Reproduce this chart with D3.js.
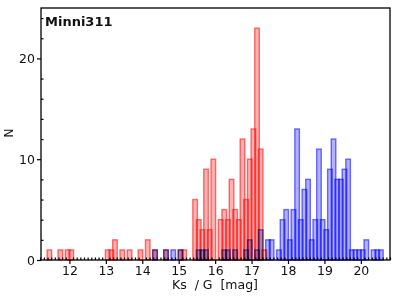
<!DOCTYPE html>
<html><head><meta charset="utf-8">
<script src="https://cdn.jsdelivr.net/npm/d3@7"></script>
<style>
html,body{margin:0;padding:0;background:#fff;}
svg{display:block;}
text{font-family:"DejaVu Sans",sans-serif;fill:#111;}
</style></head>
<body>
<svg id="c" width="400" height="300"></svg>
<script>
// Histogram bins (lower edge, mag) and counts
const binWidth = 0.1;
const ksBins   = [11.4, 11.7, 11.9, 12.0, 13.0, 13.1, 13.2, 13.4, 13.6, 13.9, 14.1, 14.3, 14.6, 15.0, 15.1,
                  15.4, 15.5, 15.6, 15.7, 15.8, 15.9, 16.1, 16.2, 16.3, 16.4, 16.5, 16.6, 16.7, 16.8, 16.9,
                  17.0, 17.1, 17.2, 17.3];
const ksCounts = [1, 1, 1, 1, 1, 1, 2, 1, 1, 1, 2, 1, 1, 1, 1,
                  6, 4, 3, 9, 3, 10, 4, 5, 4, 8, 5, 4, 12, 6, 10,
                  13, 23, 11, 1];
const gBins    = [14.3, 14.6, 14.8, 15.0, 15.5, 15.6, 15.7, 16.2, 16.3, 16.5, 16.8, 16.9, 17.1, 17.2, 17.4,
                  17.5, 17.7, 17.8, 17.9, 18.0, 18.1, 18.2, 18.3, 18.4, 18.5, 18.6, 18.7, 18.8, 18.9, 19.0,
                  19.1, 19.2, 19.3, 19.4, 19.5, 19.6, 19.7, 19.8, 19.9, 20.0, 20.1, 20.3, 20.4, 20.5];
const gCounts  = [1, 1, 1, 1, 1, 1, 1, 1, 1, 1, 1, 2, 1, 3, 2,
                  2, 1, 4, 5, 2, 5, 13, 4, 7, 8, 2, 4, 11, 4, 3,
                  9, 12, 8, 8, 9, 10, 1, 1, 1, 1, 2, 1, 1, 1];
const xTicks = [12, 13, 14, 15, 16, 17, 18, 19, 20];
const yTicks = [0, 10, 20];
const title = "Minni311";
const xLabel = "Ks  / G  [mag]";
const yLabel = "N";

const svg = d3.select("#c");
const L = 41, R = 390, T = 8, B = 260;
const x = d3.scaleLinear().domain([11.22, 20.8]).range([L, R]);
const y = d3.scaleLinear().domain([0, 25]).range([B, T]);
const barW = 0.125; // drawn bar width in mag (bars slightly overlap)

function drawSeries(bins, counts, fill, stroke) {
  const data = bins.map((b, i) => ({c: b + binWidth / 2, n: counts[i]}));
  svg.append("g").selectAll("rect").data(data).join("rect")
    .attr("x", d => x(d.c - barW / 2))
    .attr("width", d => x(d.c + barW / 2) - x(d.c - barW / 2))
    .attr("y", d => y(d.n))
    .attr("height", d => y(0) - y(d.n))
    .attr("fill", fill)
    .attr("stroke", stroke)
    .attr("stroke-width", 1.4)
    .style("mix-blend-mode", "multiply");
}
drawSeries(ksBins, ksCounts, "rgba(255,0,0,0.3)", "rgba(255,0,0,0.55)");
drawSeries(gBins, gCounts, "rgba(0,0,255,0.3)", "rgba(0,0,255,0.55)");

// frame
svg.append("rect").attr("x", L).attr("y", T).attr("width", R - L).attr("height", B - T)
  .attr("fill", "none").attr("stroke", "#000").attr("stroke-width", 1.3);

// x axis
const xMinor = d3.range(112, 209).map(v => v / 10).filter(v => Math.abs(v - Math.round(v)) > 1e-6);
const gxMaj = svg.append("g").attr("transform", `translate(0,${B})`)
  .call(d3.axisBottom(x).tickValues(xTicks).tickSize(4).tickPadding(2).tickFormat(d3.format("d")));
const gxMin = svg.append("g").attr("transform", `translate(0,${B})`)
  .call(d3.axisTop(x).tickValues(xMinor).tickSize(2.5).tickFormat(""));
// y axis
const yMinor = d3.range(2, 25, 2).filter(v => v % 10 !== 0);
const gyMaj = svg.append("g").attr("transform", `translate(${L},0)`)
  .call(d3.axisLeft(y).tickValues(yTicks).tickSize(4).tickPadding(2).tickFormat(d3.format("d")));
const gyMin = svg.append("g").attr("transform", `translate(${L},0)`)
  .call(d3.axisRight(y).tickValues(yMinor).tickSize(2.5).tickFormat(""));
[gxMaj, gxMin, gyMaj, gyMin].forEach(g => {
  g.select(".domain").remove();
  g.selectAll("line").attr("stroke", "#000").attr("stroke-width", 1.2);
  g.selectAll("text").style("font-family", '"DejaVu Sans",sans-serif').style("font-size", "12.5px").attr("fill", "#111");
});

svg.append("text").attr("x", 45).attr("y", 26).text(title)
  .style("font-weight", "bold").style("font-size", "13px");
svg.append("text").attr("x", 215).attr("y", 289).attr("text-anchor", "middle")
  .style("font-size", "12.5px").style("white-space", "pre").text(xLabel);
svg.append("text").attr("transform", "translate(13,133) rotate(-90)").attr("text-anchor", "middle")
  .style("font-size", "12.5px").text(yLabel);
</script>
</body></html>
